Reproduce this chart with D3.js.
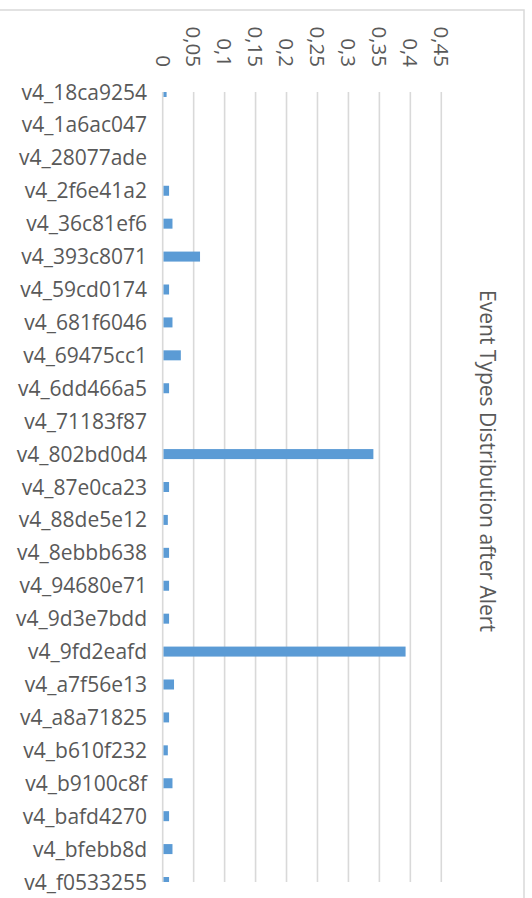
<!DOCTYPE html>
<html>
<head>
<meta charset="utf-8">
<script src="https://cdn.jsdelivr.net/npm/d3@7/dist/d3.min.js"></script>
<style>
  html, body { margin: 0; padding: 0; background: #fff; }
  svg { display: block; }
</style>
</head>
<body>
<svg id="chart" width="532" height="898"></svg>
<script>
const categories = [
  "v4_18ca9254", "v4_1a6ac047", "v4_28077ade", "v4_2f6e41a2", "v4_36c81ef6",
  "v4_393c8071", "v4_59cd0174", "v4_681f6046", "v4_69475cc1", "v4_6dd466a5",
  "v4_71183f87", "v4_802bd0d4", "v4_87e0ca23", "v4_88de5e12", "v4_8ebbb638",
  "v4_94680e71", "v4_9d3e7bdd", "v4_9fd2eafd", "v4_a7f56e13", "v4_a8a71825",
  "v4_b610f232", "v4_b9100c8f", "v4_bafd4270", "v4_bfebb8d", "v4_f0533255"
];
const values = [
  0.005, 0, 0, 0.009, 0.0145,
  0.059, 0.009, 0.0145, 0.028, 0.009,
  0, 0.339, 0.009, 0.007, 0.009,
  0.009, 0.009, 0.391, 0.017, 0.009,
  0.007, 0.0145, 0.009, 0.0145, 0.009
];
const tickValues = [0, 0.05, 0.1, 0.15, 0.2, 0.25, 0.3, 0.35, 0.4, 0.45];
const tickLabels = ["0", "0,05", "0,1", "0,15", "0,2", "0,25", "0,3", "0,35", "0,4", "0,45"];
const title = "Event Types Distribution after Alert";

const svg = d3.select("#chart");
const font = "'Open Sans', sans-serif";
const textColor = "#595959";
const gridColor = "#d9d9d9";

// chart frame (cropped)
svg.append("path")
  .attr("d", "M0,10 H524 V898")
  .attr("fill", "none")
  .attr("stroke", gridColor)
  .attr("stroke-width", 1.5);

const x = d3.scaleLinear().domain([0, 0.45]).range([162.7, 441.3]);
const y = d3.scalePoint().domain(categories).range([92, 882]);
const plotTop = 92, plotBottom = 882;

// gridlines
svg.append("g").selectAll("line")
  .data(tickValues)
  .join("line")
  .attr("x1", d => x(d)).attr("x2", d => x(d))
  .attr("y1", plotTop).attr("y2", plotBottom)
  .attr("stroke", gridColor)
  .attr("stroke-width", 1.6);

// clip for bars
svg.append("clipPath").attr("id", "plotclip")
  .append("rect")
  .attr("x", x(0)).attr("y", plotTop)
  .attr("width", x(0.45) - x(0) + 10).attr("height", plotBottom - plotTop);

const barH = 10;
svg.append("g").attr("clip-path", "url(#plotclip)")
  .selectAll("rect")
  .data(categories.map((c, i) => ({ c, v: values[i] })))
  .join("rect")
  .attr("x", x(0) + 0.8)
  .attr("y", d => y(d.c) - barH / 2)
  .attr("width", d => Math.max(0, x(d.v) - x(0)))
  .attr("height", barH)
  .attr("fill", "#5b9bd5");

// value axis tick labels (rotated)
svg.append("g").selectAll("text")
  .data(tickValues)
  .join("text")
  .attr("transform", d => `translate(${x(d)},67) rotate(90)`)
  .attr("text-anchor", "end")
  .attr("dy", "0.35em")
  .attr("font-family", font)
  .attr("font-size", 20.5)
  .attr("fill", textColor)
  .text((d, i) => tickLabels[i]);

// category labels
svg.append("g").selectAll("text")
  .data(categories)
  .join("text")
  .attr("x", 147)
  .attr("y", d => y(d))
  .attr("dy", "0.36em")
  .attr("text-anchor", "end")
  .attr("font-family", font)
  .attr("font-size", 21)
  .attr("fill", textColor)
  .text(d => d);

// title (rotated)
svg.append("text")
  .attr("transform", "translate(479.5,461) rotate(90)")
  .attr("text-anchor", "middle")
  .attr("font-family", font)
  .attr("font-size", 21)
  .attr("fill", textColor)
  .text(title);
</script>
</body>
</html>
